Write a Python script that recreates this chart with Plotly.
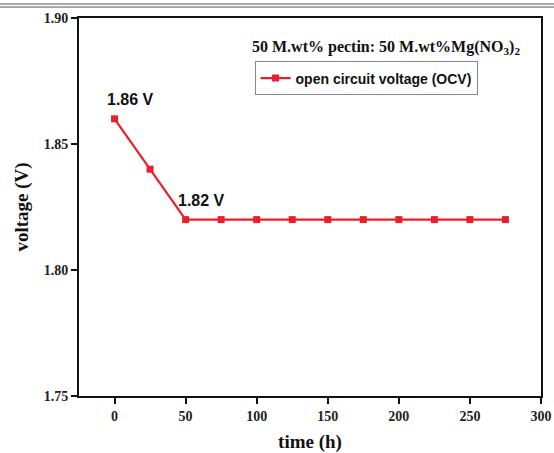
import plotly.graph_objects as go

time_h = [0, 25, 50, 75, 100, 125, 150, 175, 200, 225, 250, 275]
voltage = [1.86, 1.84, 1.82, 1.82, 1.82, 1.82, 1.82, 1.82, 1.82, 1.82, 1.82, 1.82]
x_ticks = [0, 50, 100, 150, 200, 250, 300]
y_ticks = [1.75, 1.80, 1.85, 1.90]
series_name = "open circuit voltage (OCV)"
title_text = "50 M.wt% pectin: 50 M.wt%Mg(NO<sub>3</sub>)<sub>2</sub>"
ann_points = [(0, 1.86, "1.86 V"), (50, 1.82, "1.82 V")]

red = "#e8202a"
serif = "Times New Roman, Liberation Serif, serif"
sans = "Liberation Sans, Arial, sans-serif"

fig = go.Figure()
fig.add_trace(go.Scatter(
    x=time_h, y=voltage, mode="lines+markers", name="<b>" + series_name + "</b>",
    line=dict(color=red, width=2.2),
    marker=dict(symbol="square", size=7, color=red),
))

for xv, yv, txt in ann_points:
    fig.add_annotation(x=xv, y=yv, text="<b>" + txt + "</b>", showarrow=False,
                       xanchor="center", yanchor="bottom", yshift=9, xshift=16,
                       font=dict(family=sans, size=16, color="#111"))

fig.add_annotation(xref="paper", yref="paper", x=0.664, y=0.923, text="<b>" + title_text + "</b>",
                   showarrow=False, xanchor="center", yanchor="middle",
                   font=dict(family=serif, size=16, color="#111"))

# header rules at top of page
for yy in [1.037, 1.029]:
    fig.add_shape(type="line", xref="paper", yref="paper", x0=-0.2, x1=1.05, y0=yy, y1=yy,
                  line=dict(color="#555", width=1))

axis_common = dict(
    showline=True, linecolor="#111", linewidth=2, mirror=True,
    ticks="outside", tickwidth=2, ticklen=6, tickcolor="#111",
    showgrid=False, zeroline=False, automargin=False,
    tickfont=dict(family=serif, size=14, color="#222", weight="bold"),
)

fig.update_layout(
    width=554, height=453,
    margin=dict(l=79, r=13, t=18, b=57),
    paper_bgcolor="white", plot_bgcolor="white",
    xaxis=dict(range=[-25, 300], tickvals=x_ticks, ticktext=[str(v) for v in x_ticks],
               title=dict(text="<b>time (h)</b>", font=dict(family=serif, size=19, color="#111"), standoff=14),
               **axis_common),
    yaxis=dict(range=[1.75, 1.90], tickvals=y_ticks, ticktext=["%.2f" % v for v in y_ticks],
               title=dict(text="<b>voltage (V)</b>", font=dict(family=serif, size=19, color="#111"), standoff=10),
               **axis_common),
    showlegend=True,
    legend=dict(x=0.38, y=0.885, xanchor="left", yanchor="top",
                bordercolor="#888", borderwidth=1, bgcolor="white",
                font=dict(family=sans, size=14, color="#111"),
                itemwidth=30, tracegroupgap=0),
)

fig.write_html("out.html")
